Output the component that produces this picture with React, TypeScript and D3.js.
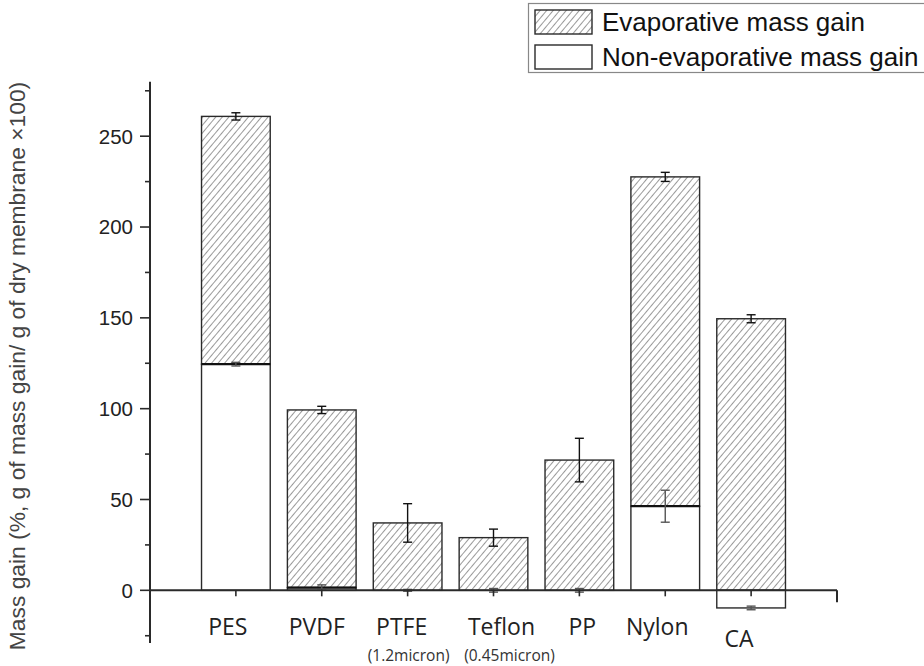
// @ts-nocheck
import { useEffect, useRef } from 'react';
import * as d3 from 'd3';

const categories = ['PES', 'PVDF', 'PTFE', 'Teflon', 'PP', 'Nylon', 'CA'];
const nonEvaporative = [124.5, 1.5, 0, 0, 0, 46.3, -9.7];
const nonEvaporativeErr = [1, 1.5, 0.5, 1, 1, 8.8, 1];
const evaporative = [136.4, 97.8, 37.1, 29.0, 71.7, 181.3, 149.5];
const totalErr = [2, 2, 10.6, 4.7, 12, 2.5, 2.2];
const yMajorTicks = [0, 50, 100, 150, 200, 250];
const yMinorTicks = [-25, 25, 75, 125, 175, 225, 275];
const subLabels = ['', '', '(1.2micron)', '(0.45micron)', '', '', ''];
const legendLabels = ['Evaporative mass gain', 'Non-evaporative mass gain'];

// small hand nudges so the category text sits like in the original figure
const labelNudge = [-8, -5, -6, 8, 3, -8, -12];
const subLabelNudge = [0, 0, 1, 16, 0, 0, 0];

const W = 924;
const H = 666;

export default function App() {
  const svgRef = useRef(null);

  useEffect(() => {
    const svg = d3.select(svgRef.current);
    svg.selectAll('*').remove();

    const x = d3.scaleLinear().domain([0, 8]).range([150, 837]);
    const y = d3.scaleLinear().domain([-29, 280]).range([643, 81.7]);
    const barW = x(0.8) - x(0);
    const ink = '#2a2a2a';

    // hatch pattern
    const defs = svg.append('defs');
    const pat = defs
      .append('pattern')
      .attr('id', 'hatch')
      .attr('patternUnits', 'userSpaceOnUse')
      .attr('width', 5)
      .attr('height', 5)
      .attr('patternTransform', 'rotate(40)');
    pat.append('rect').attr('width', 5).attr('height', 5).attr('fill', '#fff');
    pat
      .append('line')
      .attr('x1', 0.5)
      .attr('y1', 0)
      .attr('x2', 0.5)
      .attr('y2', 5)
      .attr('stroke', '#9a9a9a')
      .attr('stroke-width', 1);

    const bars = svg.append('g');

    categories.forEach((c, i) => {
      const cx = x(i + 1);
      const ne = nonEvaporative[i];
      const base = Math.max(ne, 0);
      const top = base + evaporative[i];

      // evaporative (hatched) part
      bars
        .append('rect')
        .attr('x', cx - barW / 2)
        .attr('y', y(top))
        .attr('width', barW)
        .attr('height', y(base) - y(top))
        .attr('fill', 'url(#hatch)')
        .attr('stroke', ink)
        .attr('stroke-width', 1.4);

      // non-evaporative (white) part
      if (ne !== 0) {
        bars
          .append('rect')
          .attr('x', cx - barW / 2)
          .attr('y', y(Math.max(ne, 0)))
          .attr('width', barW)
          .attr('height', Math.abs(y(ne) - y(0)))
          .attr('fill', '#fff')
          .attr('stroke', ink)
          .attr('stroke-width', 1.4);
        if (ne > 0) {
          bars
            .append('line')
            .attr('x1', cx - barW / 2)
            .attr('x2', cx + barW / 2)
            .attr('y1', y(ne))
            .attr('y2', y(ne))
            .attr('stroke', '#111')
            .attr('stroke-width', 2.2);
        }
      }

      // error bars
      const errBar = (v, e, col) => {
        const g = bars.append('g').attr('stroke', col).attr('stroke-width', 1.4);
        g.append('line').attr('x1', cx).attr('x2', cx).attr('y1', y(v + e)).attr('y2', y(v - e));
        [v + e, v - e].forEach((t) => {
          g.append('line')
            .attr('x1', cx - 4.5)
            .attr('x2', cx + 4.5)
            .attr('y1', y(t))
            .attr('y2', y(t));
        });
      };
      errBar(top, totalErr[i], '#111');
      errBar(ne, nonEvaporativeErr[i], '#555');
    });

    // axes
    const axes = svg.append('g').attr('stroke', ink).attr('stroke-width', 2);
    axes.append('line').attr('x1', x(0)).attr('x2', x(0)).attr('y1', y(280)).attr('y2', y(-29));
    axes.append('line').attr('x1', x(0)).attr('x2', x(8)).attr('y1', y(0)).attr('y2', y(0));
    axes.append('line').attr('x1', x(8)).attr('x2', x(8)).attr('y1', y(0)).attr('y2', y(0) + 12);

    yMajorTicks.forEach((t) => {
      axes.append('line').attr('x1', x(0) - 10).attr('x2', x(0)).attr('y1', y(t)).attr('y2', y(t)).attr('stroke-width', 1.6);
      svg
        .append('text')
        .attr('x', x(0) - 17)
        .attr('y', y(t))
        .attr('dy', '0.36em')
        .attr('text-anchor', 'end')
        .attr('font-family', '"Liberation Sans", Arial, sans-serif')
        .attr('font-size', '20.5px')
        .attr('fill', '#222')
        .text(t);
    });
    yMinorTicks.forEach((t) => {
      axes.append('line').attr('x1', x(0) - 5).attr('x2', x(0)).attr('y1', y(t)).attr('y2', y(t)).attr('stroke-width', 1.6);
    });

    categories.forEach((c, i) => {
      const cx = x(i + 1);
      axes.append('line').attr('x1', cx).attr('x2', cx).attr('y1', y(0)).attr('y2', y(0) + 6).attr('stroke-width', 1.6);
      svg
        .append('text')
        .attr('x', cx + labelNudge[i])
        .attr('y', c === 'CA' ? 647 : 635)
        .attr('text-anchor', 'middle')
        .attr('font-family', '"Open Sans", "Noto Sans", sans-serif')
        .attr('font-size', '23px')
        .attr('fill', '#222')
        .text(c);
      if (subLabels[i]) {
        svg
          .append('text')
          .attr('x', cx + subLabelNudge[i])
          .attr('y', 661)
          .attr('text-anchor', 'middle')
          .attr('font-family', '"Open Sans", "Noto Sans", sans-serif')
          .attr('font-size', '15.5px')
          .attr('fill', '#333')
          .text(subLabels[i]);
      }
    });

    // y axis title
    svg
      .append('text')
      .attr('transform', `translate(25, ${366}) rotate(-90)`)
      .attr('text-anchor', 'middle')
      .attr('font-family', '"Liberation Sans", Arial, sans-serif')
      .attr('font-size', '22.8px')
      .attr('fill', '#444')
      .text('Mass gain (%, g of mass gain/ g of dry membrane \u00d7100)');

    // legend
    const lg = svg.append('g');
    lg.append('rect')
      .attr('x', 528.5)
      .attr('y', 3.5)
      .attr('width', 400)
      .attr('height', 69)
      .attr('fill', '#fff')
      .attr('stroke', '#888')
      .attr('stroke-width', 1.2);
    legendLabels.forEach((l, i) => {
      const ty = 10 + i * 35;
      lg.append('rect')
        .attr('x', 535)
        .attr('y', ty)
        .attr('width', 57)
        .attr('height', 24)
        .attr('fill', i === 0 ? 'url(#hatch)' : '#fff')
        .attr('stroke', ink)
        .attr('stroke-width', 1.4);
      lg.append('text')
        .attr('x', 602)
        .attr('y', ty + 12)
        .attr('dy', '0.36em')
        .attr('font-family', '"Liberation Sans", Arial, sans-serif')
        .attr('font-size', '26px')
        .attr('fill', '#111')
        .text(l);
    });
  }, []);

  return (
    <div style={{ position: 'fixed', left: 0, top: 0 }}>
      <svg ref={svgRef} width={W} height={H} style={{ display: 'block', background: '#fff' }} />
    </div>
  );
}
